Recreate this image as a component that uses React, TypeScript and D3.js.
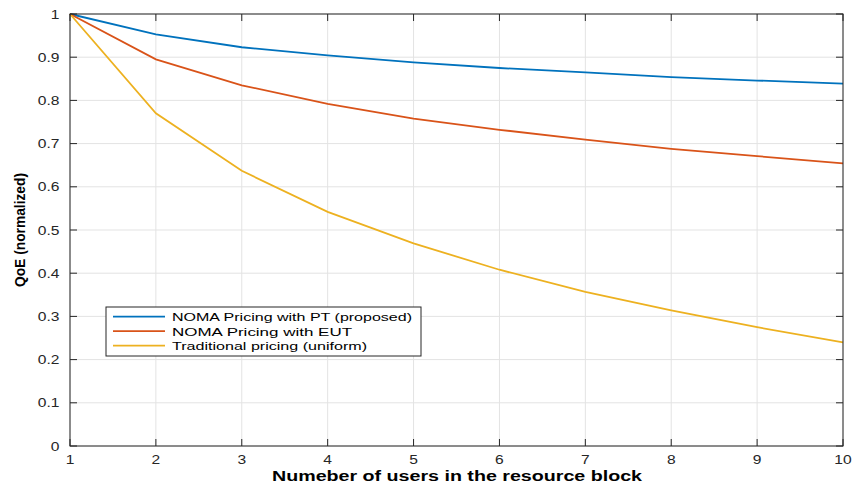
import React from "react";
import * as d3 from "d3";

const users = [1, 2, 3, 4, 5, 6, 7, 8, 9, 10];
const ptValues = [1, 0.953, 0.923, 0.904, 0.888, 0.875, 0.865, 0.854, 0.846, 0.839];
const eutValues = [1, 0.895, 0.835, 0.792, 0.758, 0.732, 0.709, 0.688, 0.671, 0.654];
const tradValues = [1, 0.770, 0.637, 0.542, 0.469, 0.408, 0.357, 0.314, 0.275, 0.240];
const seriesNames = ["NOMA Pricing with PT (proposed)", "NOMA Pricing with EUT", "Traditional pricing (uniform)"];
const seriesColors = ["#0072BD", "#D95319", "#EDB120"];
const xTicks = [1, 2, 3, 4, 5, 6, 7, 8, 9, 10];
const yTicks = [0, 0.1, 0.2, 0.3, 0.4, 0.5, 0.6, 0.7, 0.8, 0.9, 1];

const W = 854, H = 484;
const L = 70, R = 843, T = 14, B = 446;

export default function App() {
  const x = d3.scaleLinear().domain([1, 10]).range([L, R]);
  const y = d3.scaleLinear().domain([0, 1]).range([B, T]);
  const line = d3.line<number>().x((_, i) => x(users[i])).y((d) => y(d));
  const all = [ptValues, eutValues, tradValues];
  const font = "'Liberation Sans', Arial, Helvetica, sans-serif";
  const axisColor = "#262626";
  const tickLen = 7;
  const legX = 106, legY = 307, legW = 315, legH = 49;
  const legendWidths = [240, 180, 195];
  const rowLineY = [316.7, 331.2, 345.7];
  return (
    <svg width={W} height={H} style={{ position: "absolute", left: 0, top: 0 }} fontFamily={font}>
      <rect x={0} y={0} width={W} height={H} fill="#fff" />
      {xTicks.map((t) => (
        <line key={"gx" + t} x1={x(t)} x2={x(t)} y1={T} y2={B} stroke="#e3e3e3" strokeWidth={1} />
      ))}
      {yTicks.map((t) => (
        <line key={"gy" + t} x1={L} x2={R} y1={y(t)} y2={y(t)} stroke="#e3e3e3" strokeWidth={1} />
      ))}
      {all.map((s, i) => (
        <path key={"s" + i} d={line(s) || ""} fill="none" stroke={seriesColors[i]} strokeWidth={1.8} />
      ))}
      <rect x={L} y={T} width={R - L} height={B - T} fill="none" stroke={axisColor} strokeWidth={1} />
      {xTicks.map((t) => (
        <g key={"tx" + t}>
          <line x1={x(t)} x2={x(t)} y1={B} y2={B - tickLen} stroke={axisColor} />
          <line x1={x(t)} x2={x(t)} y1={T} y2={T + tickLen} stroke={axisColor} />
          <text transform={`translate(${x(t)},${B + 18}) scale(1.2,1)`} textAnchor="middle" fontSize={13} fill="#262626">{t}</text>
        </g>
      ))}
      {yTicks.map((t) => (
        <g key={"ty" + t}>
          <line x1={L} x2={L + tickLen} y1={y(t)} y2={y(t)} stroke={axisColor} />
          <line x1={R} x2={R - tickLen} y1={y(t)} y2={y(t)} stroke={axisColor} />
          <text transform={`translate(${L - 10.5},${y(t) + 4.5}) scale(1.2,1)`} textAnchor="end" fontSize={13} fill="#262626">{t}</text>
        </g>
      ))}
      <text x={272} y={481} textLength={370} lengthAdjust="spacingAndGlyphs" fontSize={14} fontWeight="bold" fill="#000">
        Numeber of users in the resource block
      </text>
      <text transform={`translate(25,287) rotate(-90)`} textLength={114} lengthAdjust="spacingAndGlyphs" fontSize={14} fontWeight="bold" fill="#000">
        QoE (normalized)
      </text>
      <rect x={legX} y={legY} width={legW} height={legH} fill="#fff" stroke={axisColor} strokeWidth={1} />
      {seriesNames.map((n, i) => (
        <g key={"l" + i}>
          <line x1={113} x2={165} y1={rowLineY[i]} y2={rowLineY[i]} stroke={seriesColors[i]} strokeWidth={1.8} />
          <text x={172} y={rowLineY[i] + 4.3} textLength={legendWidths[i]} lengthAdjust="spacingAndGlyphs" fontSize={11.5} fill="#000">{n}</text>
        </g>
      ))}
    </svg>
  );
}
